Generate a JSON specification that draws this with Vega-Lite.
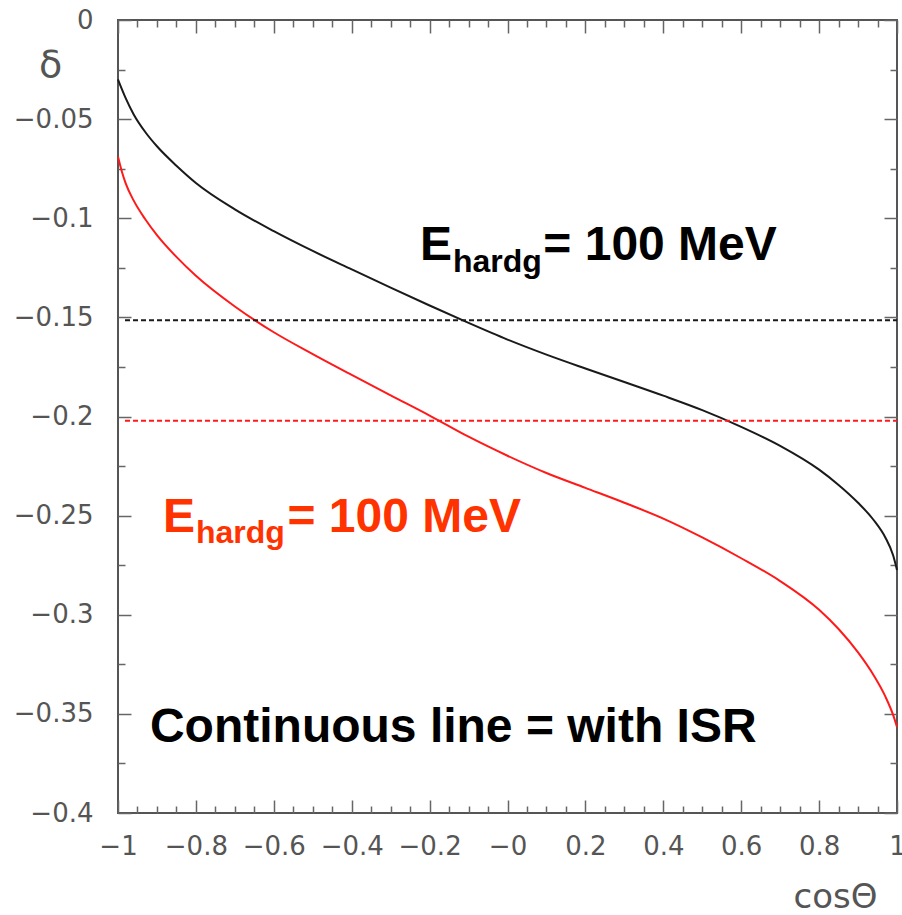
{
  "$schema": "https://vega.github.io/schema/vega-lite/v6.json",
  "width": 779,
  "height": 793,
  "autosize": {"type": "none"},
  "padding": {"left": 118, "top": 20, "right": 5, "bottom": 102},
  "background": "white",
  "config": {
    "view": {"stroke": "#555", "strokeWidth": 2},
    "axis": {"grid": false, "domain": false, "tickColor": "#666", "tickWidth": 1.5, "labelFont": "DejaVu Sans", "labelFontSize": 26, "labelColor": "#555", "titleFont": "DejaVu Sans", "titleColor": "#555", "titleFontWeight": "normal"}
  },
  "resolve": {"axis": {"x": "independent", "y": "independent"}},
  "layer": [
    {
      "data": {"values": [
        {"series": "black", "c": -1, "d": -0.030},
        {"series": "black", "c": -0.98, "d": -0.0395},
        {"series": "black", "c": -0.96, "d": -0.0475},
        {"series": "black", "c": -0.93, "d": -0.0565},
        {"series": "black", "c": -0.9, "d": -0.0637},
        {"series": "black", "c": -0.85, "d": -0.0735},
        {"series": "black", "c": -0.8, "d": -0.0822},
        {"series": "black", "c": -0.7, "d": -0.0955},
        {"series": "black", "c": -0.6, "d": -0.1065},
        {"series": "black", "c": -0.5, "d": -0.1165},
        {"series": "black", "c": -0.4, "d": -0.1258},
        {"series": "black", "c": -0.3, "d": -0.1350},
        {"series": "black", "c": -0.2, "d": -0.1440},
        {"series": "black", "c": -0.1, "d": -0.1528},
        {"series": "black", "c": 0.0, "d": -0.1612},
        {"series": "black", "c": 0.1, "d": -0.1688},
        {"series": "black", "c": 0.2, "d": -0.1758},
        {"series": "black", "c": 0.3, "d": -0.1826},
        {"series": "black", "c": 0.4, "d": -0.1895},
        {"series": "black", "c": 0.5, "d": -0.1968},
        {"series": "black", "c": 0.6, "d": -0.2052},
        {"series": "black", "c": 0.7, "d": -0.2148},
        {"series": "black", "c": 0.8, "d": -0.2268},
        {"series": "black", "c": 0.85, "d": -0.2345},
        {"series": "black", "c": 0.9, "d": -0.2435},
        {"series": "black", "c": 0.94, "d": -0.2522},
        {"series": "black", "c": 0.97, "d": -0.2610},
        {"series": "black", "c": 0.99, "d": -0.2700},
        {"series": "black", "c": 1.0, "d": -0.2774},
        {"series": "red", "c": -1, "d": -0.069},
        {"series": "red", "c": -0.99, "d": -0.0765},
        {"series": "red", "c": -0.98, "d": -0.0825},
        {"series": "red", "c": -0.96, "d": -0.0910},
        {"series": "red", "c": -0.93, "d": -0.1005},
        {"series": "red", "c": -0.9, "d": -0.1085},
        {"series": "red", "c": -0.85, "d": -0.1195},
        {"series": "red", "c": -0.8, "d": -0.1290},
        {"series": "red", "c": -0.7, "d": -0.1445},
        {"series": "red", "c": -0.6, "d": -0.1575},
        {"series": "red", "c": -0.5, "d": -0.1685},
        {"series": "red", "c": -0.4, "d": -0.1790},
        {"series": "red", "c": -0.3, "d": -0.1893},
        {"series": "red", "c": -0.2, "d": -0.1995},
        {"series": "red", "c": -0.1, "d": -0.2102},
        {"series": "red", "c": 0.0, "d": -0.2198},
        {"series": "red", "c": 0.1, "d": -0.2285},
        {"series": "red", "c": 0.2, "d": -0.2360},
        {"series": "red", "c": 0.3, "d": -0.2435},
        {"series": "red", "c": 0.4, "d": -0.2515},
        {"series": "red", "c": 0.5, "d": -0.2610},
        {"series": "red", "c": 0.6, "d": -0.2715},
        {"series": "red", "c": 0.7, "d": -0.2830},
        {"series": "red", "c": 0.8, "d": -0.2975},
        {"series": "red", "c": 0.85, "d": -0.3072},
        {"series": "red", "c": 0.9, "d": -0.3190},
        {"series": "red", "c": 0.94, "d": -0.3305},
        {"series": "red", "c": 0.97, "d": -0.3412},
        {"series": "red", "c": 0.99, "d": -0.3505},
        {"series": "red", "c": 1.0, "d": -0.3566}
      ]},
      "mark": {"type": "line", "strokeWidth": 2, "interpolate": "monotone"},
      "encoding": {
        "x": {"field": "c", "type": "quantitative",
          "scale": {"domain": [-1, 1], "nice": false, "zero": false},
          "axis": {"orient": "bottom", "ticks": false, "tickSize": 0, "labelPadding": 20,
            "values": [-1, -0.8, -0.6, -0.4, -0.2, 0, 0.2, 0.4, 0.6, 0.8, 1],
            "format": "~g", "labelExpr": "datum.value == 0 ? '\u22120' : datum.label",
            "labelFlush": false, "labelOverlap": false,
            "title": "cos\u0398", "titleFontSize": 34, "titleX": 717, "titleY": 84,
            "titleAlign": "center", "titleBaseline": "middle", "titleAnchor": null}},
        "y": {"field": "d", "type": "quantitative",
          "scale": {"domain": [-0.4, 0], "nice": false, "zero": false},
          "axis": {"orient": "left", "ticks": false, "tickSize": 0, "labelPadding": 25,
            "values": [0, -0.05, -0.1, -0.15, -0.2, -0.25, -0.3, -0.35, -0.4],
            "format": "~g", "labelFlush": false, "labelOverlap": false, "labelBaseline": "middle",
            "title": "\u03b4", "titleFontSize": 38, "titleAngle": 0, "titleX": -68, "titleY": 45,
            "titleAlign": "center", "titleBaseline": "middle", "titleAnchor": null}},
        "color": {"field": "series", "type": "nominal",
          "scale": {"domain": ["black", "red"], "range": ["#1a1a1a", "#ff1a1a"]}, "legend": null}
      }
    },
    {
      "data": {"values": [
        {"series": "black", "from": -0.982, "to": 1, "level": -0.1515},
        {"series": "red", "from": -0.982, "to": 1, "level": -0.2021}
      ]},
      "mark": {"type": "rule", "strokeWidth": 2, "strokeDash": [5, 3]},
      "encoding": {
        "x": {"field": "from", "type": "quantitative",
          "scale": {"domain": [-1, 1], "nice": false, "zero": false},
          "axis": {"orient": "bottom", "labels": false, "tickSize": -13, "title": null,
            "values": [-1, -0.8, -0.6, -0.4, -0.2, 0, 0.2, 0.4, 0.6, 0.8, 1]}},
        "x2": {"field": "to"},
        "y": {"field": "level", "type": "quantitative",
          "scale": {"domain": [-0.4, 0], "nice": false, "zero": false},
          "axis": {"orient": "left", "labels": false, "tickSize": -13, "title": null,
            "values": [0, -0.05, -0.1, -0.15, -0.2, -0.25, -0.3, -0.35, -0.4]}},
        "color": {"field": "series", "type": "nominal",
          "scale": {"domain": ["black", "red"], "range": ["#555555", "#ff1a1a"]}, "legend": null}
      }
    },
    {
      "data": {"values": [
        {"label": "E", "c": -0.2247, "d": -0.1211},
        {"label": "= 100 MeV", "c": 0.092, "d": -0.1211},
        {"label": "Continuous line = with ISR", "c": -0.918, "d": -0.3642}
      ]},
      "mark": {"type": "text", "font": "Liberation Sans", "fontWeight": "bold", "fontSize": 48, "align": "left", "baseline": "alphabetic", "color": "#000000"},
      "encoding": {
        "x": {"field": "c", "type": "quantitative",
          "axis": {"orient": "bottom", "labels": false, "tickSize": -7, "title": null,
            "values": [-0.95, -0.9, -0.85, -0.75, -0.7, -0.65, -0.55, -0.5, -0.45, -0.35, -0.3, -0.25, -0.15, -0.1, -0.05, 0.05, 0.1, 0.15, 0.25, 0.3, 0.35, 0.45, 0.5, 0.55, 0.65, 0.7, 0.75, 0.85, 0.9, 0.95]}},
        "y": {"field": "d", "type": "quantitative",
          "axis": {"orient": "left", "labels": false, "tickSize": -7, "title": null,
            "values": [-0.025, -0.075, -0.125, -0.175, -0.225, -0.275, -0.325, -0.375]}},
        "text": {"field": "label"}
      }
    },
    {
      "data": {"values": [
        {"label": "hardg", "c": -0.1399, "d": -0.1271}
      ]},
      "mark": {"type": "text", "font": "Liberation Sans", "fontWeight": "bold", "fontSize": 32, "align": "left", "baseline": "alphabetic", "color": "#000000"},
      "encoding": {
        "x": {"field": "c", "type": "quantitative",
          "axis": {"orient": "top", "labels": false, "tickSize": -13, "title": null,
            "values": [-1, -0.8, -0.6, -0.4, -0.2, 0, 0.2, 0.4, 0.6, 0.8, 1]}},
        "y": {"field": "d", "type": "quantitative",
          "axis": {"orient": "right", "labels": false, "tickSize": -13, "title": null,
            "values": [0, -0.05, -0.1, -0.15, -0.2, -0.25, -0.3, -0.35, -0.4]}},
        "text": {"field": "label"}
      }
    },
    {
      "data": {"values": [
        {"label": "E", "c": -0.8845, "d": -0.2583},
        {"label": "= 100 MeV", "c": -0.565, "d": -0.2583}
      ]},
      "mark": {"type": "text", "font": "Liberation Sans", "fontWeight": "bold", "fontSize": 48, "align": "left", "baseline": "alphabetic", "color": "#ff3300"},
      "encoding": {
        "x": {"field": "c", "type": "quantitative",
          "axis": {"orient": "top", "labels": false, "tickSize": -7, "title": null,
            "values": [-0.95, -0.9, -0.85, -0.75, -0.7, -0.65, -0.55, -0.5, -0.45, -0.35, -0.3, -0.25, -0.15, -0.1, -0.05, 0.05, 0.1, 0.15, 0.25, 0.3, 0.35, 0.45, 0.5, 0.55, 0.65, 0.7, 0.75, 0.85, 0.9, 0.95]}},
        "y": {"field": "d", "type": "quantitative",
          "axis": {"orient": "right", "labels": false, "tickSize": -7, "title": null,
            "values": [-0.025, -0.075, -0.125, -0.175, -0.225, -0.275, -0.325, -0.375]}},
        "text": {"field": "label"}
      }
    },
    {
      "data": {"values": [
        {"label": "hardg", "c": -0.7997, "d": -0.2638}
      ]},
      "mark": {"type": "text", "font": "Liberation Sans", "fontWeight": "bold", "fontSize": 32, "align": "left", "baseline": "alphabetic", "color": "#ff3300"},
      "encoding": {
        "x": {"field": "c", "type": "quantitative", "axis": null},
        "y": {"field": "d", "type": "quantitative", "axis": null},
        "text": {"field": "label"}
      }
    }
  ]
}
